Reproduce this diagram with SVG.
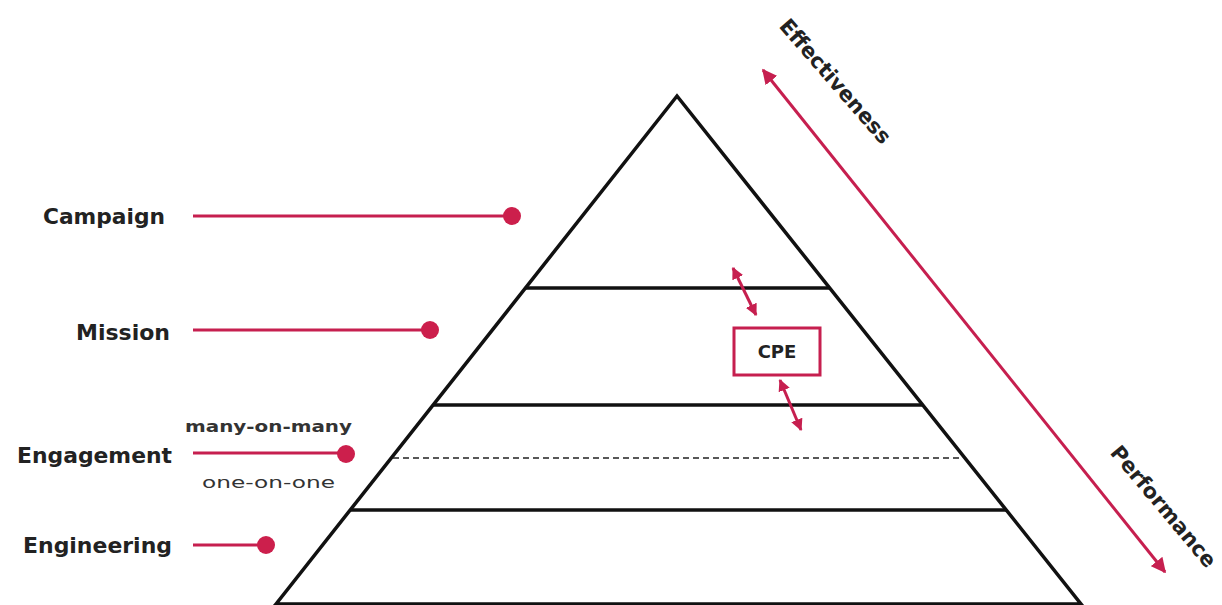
<svg xmlns="http://www.w3.org/2000/svg" width="1222" height="605" viewBox="0 0 1222 605">
<style>
.lbl{font-family:"DejaVu Sans",sans-serif;font-weight:bold;font-size:22px;fill:#222}
.ax{font-family:"DejaVu Sans",sans-serif;font-weight:bold;font-size:21px;fill:#222}
.sub{font-family:"DejaVu Sans",sans-serif;font-size:15px;fill:#333}
.lvl{stroke:#111;stroke-width:3.5;fill:none}
.red{stroke:#c61f4f;stroke-width:3;fill:none}
.dot{fill:#cc1f4c}
</style>
<defs>
<marker id="ah" viewBox="0 0 10 10" refX="9" refY="5" markerWidth="5" markerHeight="5" orient="auto-start-reverse" markerUnits="strokeWidth"><path d="M0,0 L10,5 L0,10 z" fill="#c61f4f"/></marker>
<marker id="ahs" viewBox="0 0 10 10" refX="9" refY="5" markerWidth="4" markerHeight="4" orient="auto-start-reverse" markerUnits="strokeWidth"><path d="M0,0 L10,5 L0,10 z" fill="#c61f4f"/></marker>
</defs>
<rect width="1222" height="605" fill="#fff"/>
<g id="pyramid">
<path class="lvl" d="M276,604 L677,96 L1081,604 Z"/>
<line class="lvl" x1="525" y1="288" x2="830" y2="288"/>
<line class="lvl" x1="433" y1="405" x2="923" y2="405"/>
<line class="lvl" x1="350" y1="510" x2="1007" y2="510"/>
<line x1="393" y1="458" x2="962" y2="458" stroke="#222" stroke-width="1.3" stroke-dasharray="6,4"/>
</g>
<g id="campaign">
<text class="lbl" x="43" y="224" textLength="122" lengthAdjust="spacingAndGlyphs">Campaign</text>
</g>
<g id="mission">
<text class="lbl" x="76" y="340" textLength="94" lengthAdjust="spacingAndGlyphs">Mission</text>
</g>
<g id="engagement">
<text class="lbl" x="17" y="463" textLength="155" lengthAdjust="spacingAndGlyphs">Engagement</text>
<text class="sub" x="185" y="432" font-weight="bold" textLength="167" lengthAdjust="spacingAndGlyphs">many-on-many</text>
<text class="sub" x="202" y="488" textLength="133" lengthAdjust="spacingAndGlyphs">one-on-one</text>
</g>
<g id="engineering">
<text class="lbl" x="23" y="553" textLength="149" lengthAdjust="spacingAndGlyphs">Engineering</text>
</g>
<g id="cpe">
<rect x="734" y="328" width="86" height="47" fill="#fff" stroke="#c61f4f" stroke-width="3"/>
<text x="777" y="358" text-anchor="middle" font-family="DejaVu Sans,sans-serif" font-weight="bold" font-size="18" fill="#222">CPE</text>
</g>
<g id="axis-labels">
<text class="ax" transform="translate(830,86) rotate(49)" text-anchor="middle">Effectiveness</text>
<text class="ax" transform="translate(1158,511) rotate(50)" text-anchor="middle">Performance</text>
</g>
<g id="connectors">
<line class="red" x1="193" y1="216" x2="512" y2="216"/><circle class="dot" cx="512" cy="216" r="9"/>
<line class="red" x1="193" y1="330" x2="430" y2="330"/><circle class="dot" cx="430" cy="330" r="9"/>
<line class="red" x1="193" y1="453" x2="346" y2="453"/><circle class="dot" cx="346" cy="454" r="9"/>
<line class="red" x1="193" y1="545" x2="266" y2="545"/><circle class="dot" cx="266" cy="545" r="9"/>
<line class="red" x1="763" y1="70" x2="1165" y2="572" stroke-width="2.5" marker-start="url(#ah)" marker-end="url(#ah)"/>
<line class="red" x1="733" y1="268" x2="756" y2="315" stroke-width="2.5" marker-start="url(#ahs)" marker-end="url(#ahs)"/>
<line class="red" x1="780" y1="380" x2="801" y2="430" stroke-width="2.5" marker-start="url(#ahs)" marker-end="url(#ahs)"/>
</g>
</svg>
